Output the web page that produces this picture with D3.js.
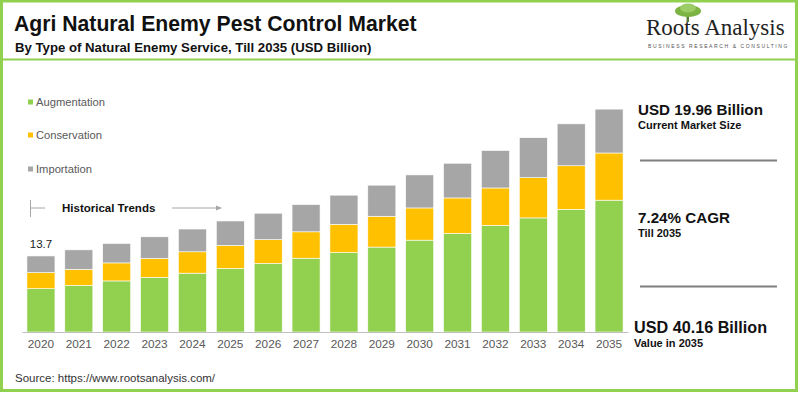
<!DOCTYPE html>
<html>
<head>
<meta charset="utf-8">
<script src="https://cdn.jsdelivr.net/npm/d3@7"></script>
<style>
  body { margin: 0; background: #fff; }
  svg { display: block; font-family: "Liberation Sans", Arial, sans-serif; }
</style>
</head>
<body>
<div class="wrapper"></div>
<script>
// data
var years = ["2020","2021","2022","2023","2024","2025","2026","2027","2028","2029","2030","2031","2032","2033","2034","2035"];
var augmentation = [7.8, 8.4, 9.2, 9.85, 10.6, 11.45, 12.35, 13.3, 14.3, 15.3, 16.55, 17.75, 19.2, 20.55, 22.1, 23.75];
var conservation = [2.9, 2.9, 3.25, 3.4, 3.85, 4.15, 4.3, 4.75, 5.1, 5.55, 5.8, 6.4, 6.75, 7.25, 7.85, 8.5];
var importation = [3.0, 3.5, 3.5, 3.9, 4.1, 4.4, 4.75, 4.9, 5.25, 5.6, 5.95, 6.25, 6.75, 7.2, 7.55, 7.9];
var seriesNames = ["Augmentation", "Conservation", "Importation"];
var seriesColors = ["#92d050", "#ffc000", "#a6a6a6"];
var firstLabel = "13.7";

var width = 800, height = 393;

var svg = d3.select(".wrapper").append("svg")
  .attr("width", width)
  .attr("height", height);

// frame
svg.append("rect")
  .attr("x", 1.5).attr("y", 1)
  .attr("width", 795).attr("height", 389.5)
  .attr("fill", "none")
  .attr("stroke", "#92d050")
  .attr("stroke-width", 3);

svg.append("line")
  .attr("x1", 3).attr("x2", 795)
  .attr("y1", 59.5).attr("y2", 59.5)
  .attr("stroke", "#92d050")
  .attr("stroke-width", 2);

// titles
svg.append("text")
  .attr("x", 14).attr("y", 31)
  .style("font-size", "21.2px").style("font-weight", "bold")
  .attr("fill", "#111")
  .text("Agri Natural Enemy Pest Control Market");

svg.append("text")
  .attr("x", 15).attr("y", 51.5)
  .style("font-size", "13.2px").style("font-weight", "bold")
  .attr("fill", "#111")
  .text("By Type of Natural Enemy Service, Till 2035 (USD Billion)");

// logo
var logo = svg.append("g");
logo.append("rect").attr("x", 686.5).attr("y", 12).attr("width", 2.5).attr("height", 10).attr("fill", "#5c7d3a");
logo.append("ellipse").attr("cx", 688).attr("cy", 11).attr("rx", 13).attr("ry", 6).attr("fill", "#7cb342");
logo.append("ellipse").attr("cx", 688).attr("cy", 8).attr("rx", 8).attr("ry", 4.5).attr("fill", "#9ccc65");
logo.append("text")
  .attr("x", 646).attr("y", 35)
  .style("font-family", "'Liberation Serif', 'DejaVu Serif', serif")
  .style("font-size", "23px")
  .attr("fill", "#222")
  .text("Roots Analysis");
logo.append("text")
  .attr("x", 648).attr("y", 48)
  .style("font-size", "5px")
  .style("letter-spacing", "1.6px")
  .attr("fill", "#555")
  .text("BUSINESS RESEARCH & CONSULTING");

// stacked data
var table = years.map(function (y, i) {
  return { year: y, Augmentation: augmentation[i], Conservation: conservation[i], Importation: importation[i] };
});
var stacked = d3.stack().keys(seriesNames)(table);

var x = d3.scaleBand()
  .domain(years)
  .range([22, 628])
  .paddingInner(0.26)
  .paddingOuter(0.13);

var y = d3.scaleLinear()
  .domain([0, 40.3])
  .range([332, 108.3]);

var color = d3.scaleOrdinal().domain(seriesNames).range(seriesColors);

svg.append("g")
  .selectAll("g")
  .data(stacked)
  .join("g")
  .attr("fill", function (d) { return color(d.key); })
  .selectAll("rect")
  .data(function (d) { return d; })
  .join("rect")
  .attr("x", function (d) { return x(d.data.year); })
  .attr("y", function (d) { return y(d[1]); })
  .attr("width", x.bandwidth())
  .attr("height", function (d) { return y(d[0]) - y(d[1]); })
  .attr("stroke", "#fff")
  .attr("stroke-width", 0.6);

// x axis
var xAxis = svg.append("g")
  .attr("transform", "translate(0,332)")
  .call(d3.axisBottom(x).tickSize(0).tickPadding(8));
xAxis.select(".domain").attr("stroke", "#bfbfbf").attr("stroke-width", 1);
xAxis.selectAll("text")
  .style("font-size", "11.8px")
  .style("font-family", "'Liberation Sans', Arial, sans-serif")
  .attr("fill", "#595959");

// first bar label
svg.append("text")
  .attr("x", x(years[0]) + x.bandwidth() / 2)
  .attr("y", 248)
  .attr("text-anchor", "middle")
  .style("font-size", "11.5px")
  .attr("fill", "#222")
  .text(firstLabel);

// legend
var legend = svg.append("g")
  .selectAll("g")
  .data(seriesNames)
  .join("g")
  .attr("transform", function (d, i) { return "translate(28," + [102, 135, 169][i] + ")"; });
legend.append("rect")
  .attr("x", 0).attr("y", -2.5)
  .attr("width", 5).attr("height", 5)
  .attr("fill", function (d) { return color(d); });
legend.append("text")
  .attr("x", 8).attr("y", 4)
  .style("font-size", "11.2px")
  .attr("fill", "#595959")
  .text(function (d) { return d; });

// historical trends marker
svg.append("line").attr("x1", 30.5).attr("x2", 30.5).attr("y1", 200).attr("y2", 217)
  .attr("stroke", "#a6a6a6").attr("stroke-width", 1);
svg.append("line").attr("x1", 30.5).attr("x2", 45).attr("y1", 208).attr("y2", 208)
  .attr("stroke", "#a6a6a6").attr("stroke-width", 1);
svg.append("text")
  .attr("x", 62).attr("y", 212)
  .style("font-size", "11.5px").style("font-weight", "bold")
  .attr("fill", "#111")
  .text("Historical Trends");
svg.append("line").attr("x1", 172).attr("x2", 219).attr("y1", 208).attr("y2", 208)
  .attr("stroke", "#a6a6a6").attr("stroke-width", 1);
svg.append("path").attr("d", "M216,205.5 L222,208 L216,210.5 Z").attr("fill", "#a6a6a6");

// right panel
var panel = [
  { big: "USD 19.96 Billion", small: "Current Market Size", x: 638, y: 115, size: 15.2 },
  { big: "7.24% CAGR", small: "Till 2035", x: 638, y: 223, size: 15.2 },
  { big: "USD 40.16 Billion", small: "Value in 2035", x: 634, y: 333, size: 16.2 }
];
panel.forEach(function (p) {
  svg.append("text")
    .attr("x", p.x).attr("y", p.y)
    .style("font-size", p.size + "px").style("font-weight", "bold")
    .attr("fill", "#111")
    .text(p.big);
  svg.append("text")
    .attr("x", p.x).attr("y", p.y + 14)
    .style("font-size", "11px").style("font-weight", "bold")
    .attr("fill", "#111")
    .text(p.small);
});
[160.5, 286.5].forEach(function (yy) {
  svg.append("line")
    .attr("x1", 640).attr("x2", 777)
    .attr("y1", yy).attr("y2", yy)
    .attr("stroke", "#7f7f7f").attr("stroke-width", 2);
});

// source
svg.append("text")
  .attr("x", 15).attr("y", 382)
  .style("font-size", "11.5px")
  .attr("fill", "#333")
  .text("Source: https://www.rootsanalysis.com/");
</script>
</body>
</html>
